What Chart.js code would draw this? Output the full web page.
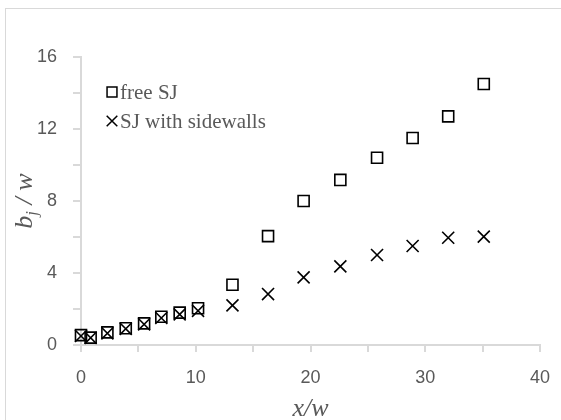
<!DOCTYPE html>
<html>
<head>
<meta charset="utf-8">
<script src="https://cdn.jsdelivr.net/npm/chart.js@4/dist/chart.umd.min.js"></script>
<style>
  html, body { margin: 0; padding: 0; background: #fff; }
  #wrap { position: relative; width: 561px; height: 420px; overflow: hidden; }
  #frame { position: absolute; left: 5px; top: 8px; width: 600px; height: 500px; border: 1px solid #d9d9d9; }
  canvas { position: absolute; left: 0; top: 0; }
</style>
</head>
<body>
<div id="wrap">
  <div id="frame"></div>
  <canvas id="chart" width="561" height="420"></canvas>
</div>
<script>
// x/w positions (shared by both series)
const xPos = [0, 0.84, 2.3, 3.9, 5.5, 7.0, 8.6, 10.2, 13.2, 16.3, 19.4, 22.6, 25.8, 28.9, 32.0, 35.1];
// b_j / w
const freeSJ = [0.55, 0.41, 0.7, 0.93, 1.2, 1.57, 1.8, 2.04, 3.35, 6.05, 8.0, 9.17, 10.4, 11.5, 12.7, 14.5];
const sidewallSJ = [0.5, 0.4, 0.65, 0.9, 1.15, 1.5, 1.7, 1.9, 2.2, 2.83, 3.76, 4.37, 5.0, 5.5, 5.96, 6.02];
const seriesNames = ['free SJ', 'SJ with sidewalls'];
const xTickLabels = [0, 10, 20, 30, 40];
const yTickLabels = [0, 4, 8, 12, 16];

const axisGray = '#d9d9d9';
const textGray = '#595959';
const tickFont = { family: 'Liberation Sans', size: 18 };

// legend and axis titles drawn by hand (legend sits inside the plot, title needs a subscript)
const extras = {
    id: 'extras',
    afterDraw(chart) {
        const ctx = chart.ctx;
        const area = chart.chartArea;
        ctx.save();

        // legend
        const items = [
            { style: 'rect', r: 7, y: 92 },
            { style: 'crossRot', r: 7.5, y: 121 }
        ];
        ctx.font = '21px "Liberation Serif"';
        ctx.textBaseline = 'middle';
        items.forEach((it, i) => {
            ctx.strokeStyle = '#000';
            ctx.fillStyle = 'rgba(0,0,0,0)';
            ctx.lineWidth = 1.5;
            Chart.helpers.drawPoint(ctx, { pointStyle: it.style, radius: it.r, borderWidth: 1.5 }, 112, it.y);
            ctx.fillStyle = textGray;
            ctx.fillText(seriesNames[i], 120, it.y + 1);
        });

        // x title
        ctx.font = 'italic 26px "Liberation Serif"';
        ctx.textAlign = 'center';
        ctx.textBaseline = 'alphabetic';
        ctx.fillText('x/w', (area.left + area.right) / 2, 416);

        // y title: b_j / w, rotated
        ctx.translate(32, (area.top + area.bottom) / 2);
        ctx.rotate(-Math.PI / 2);
        const big = 'italic 26px "Liberation Serif"';
        const small = 'italic 17px "Liberation Serif"';
        ctx.font = big;
        const wB = ctx.measureText('b').width;
        const wRest = ctx.measureText(' / w').width;
        ctx.font = small;
        const wJ = ctx.measureText('j').width;
        let x = -(wB + wJ + wRest) / 2;
        ctx.textAlign = 'left';
        ctx.font = big;
        ctx.fillText('b', x, 0);
        x += wB;
        ctx.font = small;
        ctx.fillText('j', x, 5);
        x += wJ;
        ctx.font = big;
        ctx.fillText(' / w', x, 0);

        ctx.restore();
    }
};

new Chart(document.getElementById('chart'), {
    type: 'scatter',
    data: {
        datasets: [
            {
                label: seriesNames[0],
                data: xPos.map((x, i) => ({ x: x, y: freeSJ[i] })),
                pointStyle: 'rect',
                pointRadius: 7.8,
                pointBorderWidth: 1.6,
                borderColor: '#000',
                backgroundColor: 'rgba(0,0,0,0)',
                clip: false
            },
            {
                label: seriesNames[1],
                data: xPos.map((x, i) => ({ x: x, y: sidewallSJ[i] })),
                pointStyle: 'crossRot',
                pointRadius: 8.5,
                pointBorderWidth: 1.6,
                borderColor: '#000',
                backgroundColor: 'rgba(0,0,0,0)',
                clip: false
            }
        ]
    },
    options: {
        responsive: false,
        animation: false,
        layout: { padding: { left: 0, right: 21, top: 57, bottom: 0 } },
        plugins: { legend: { display: false }, tooltip: { enabled: false } },
        scales: {
            x: {
                type: 'linear',
                min: 0, max: 40,
                afterFit: (s) => { s.height = 75; s.paddingRight = 0; s.paddingLeft = 0; },
                border: { color: axisGray, width: 2 },
                grid: { drawOnChartArea: false, drawTicks: true, tickLength: 7, color: axisGray, lineWidth: 2 },
                ticks: {
                    stepSize: 5,
                    autoSkip: false,
                    maxRotation: 0,
                    padding: 15,
                    color: textGray,
                    font: tickFont,
                    callback: (v) => xTickLabels.includes(v) ? String(v) : ''
                }
            },
            y: {
                min: 0, max: 16,
                afterFit: (s) => { s.width = 81; s.paddingTop = 0; s.paddingBottom = 0; },
                border: { color: axisGray, width: 2 },
                grid: { drawOnChartArea: false, drawTicks: true, tickLength: 8, color: axisGray, lineWidth: 2 },
                ticks: {
                    stepSize: 2,
                    autoSkip: false,
                    padding: 16,
                    color: textGray,
                    font: tickFont,
                    callback: (v) => yTickLabels.includes(v) ? String(v) : ''
                }
            }
        }
    },
    plugins: [extras]
});
</script>
</body>
</html>
